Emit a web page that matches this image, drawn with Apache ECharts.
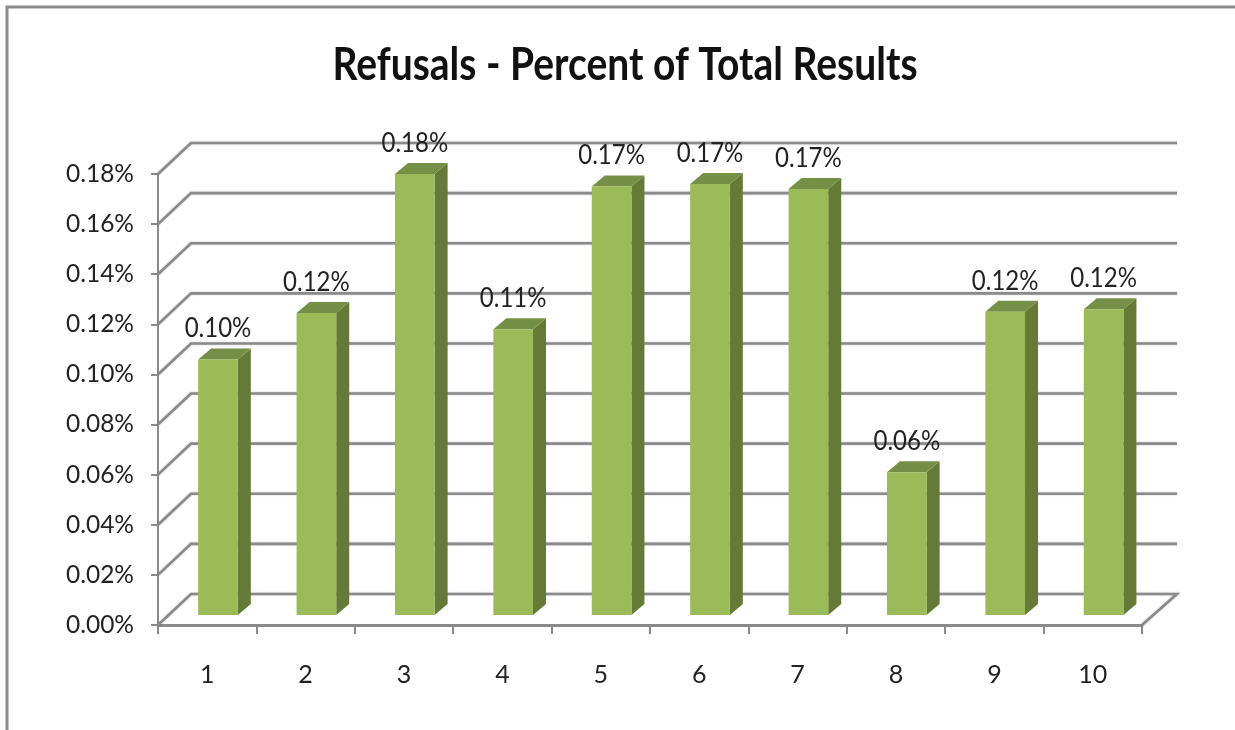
<!DOCTYPE html>
<html>
<head>
<meta charset="utf-8">
<style>html,body{margin:0;padding:0;background:#fff}#c{width:1235px;height:730px}</style>
<script src="https://cdn.jsdelivr.net/npm/echarts@6/dist/echarts.min.js"></script>
</head>
<body>
<div id="c"></div>
<script>
const titleText = 'Refusals - Percent of Total Results';
const categories = ['1','2','3','4','5','6','7','8','9','10'];
const refusals = [0.102,0.1205,0.176,0.114,0.171,0.172,0.170,0.057,0.121,0.122];
const dataLabels = ['0.10%','0.12%','0.18%','0.11%','0.17%','0.17%','0.17%','0.06%','0.12%','0.12%'];
const yTicks = [0,0.02,0.04,0.06,0.08,0.10,0.12,0.14,0.16,0.18];

const FONT = 'Lato';
const GRID = '#8a8a8a';
const wallDx = 33, wallDy = -31, wallRight = 35;
const barDx = 13, barDy = -11, barShift = 10.8, barFloor = 10;

const chart = echarts.init(document.getElementById('c'));
chart.setOption({
  animation: false,
  backgroundColor: '#fff',
  graphic: [{
    type: 'rect', silent: true,
    shape: {x: 7, y: 7, width: 1300, height: 800},
    style: {fill: 'none', stroke: '#8c8c8c', lineWidth: 3}
  }, {
    type: 'text', silent: true, x: 625, y: 66, scaleY: 1.15,
    style: {text: titleText, x: 0, y: 0, align: 'center', verticalAlign: 'middle',
      fontFamily: FONT, fontSize: 39, fontWeight: 'bold', fill: '#111'}
  }],
  grid: {left: 158, right: 93, top: 174, bottom: 105},
  xAxis: {
    type: 'category', data: categories,
    axisLine: {lineStyle: {color: GRID, width: 3}},
    axisTick: {show: true, length: 9, lineStyle: {color: GRID, width: 2}},
    axisLabel: {margin: 37, fontFamily: FONT, fontSize: 25, color: '#222'}
  },
  yAxis: {
    type: 'value', min: 0, max: 0.18, interval: 0.02,
    axisLine: {show: true, lineStyle: {color: GRID, width: 2}},
    axisTick: {show: true, length: 7, lineStyle: {color: GRID, width: 2}},
    splitLine: {show: false},
    axisLabel: {margin: 24, fontFamily: FONT, fontSize: 24.5, color: '#222',
      padding: [6, 0, 0, 0],
      formatter: v => v.toFixed(2) + '%'}
  },
  series: [{
    type: 'custom', z: 1, silent: true,
    coordinateSystem: 'cartesian2d',
    encode: {x: 0, y: 1},
    data: yTicks.map(t => [0, t]),
    renderItem: function (params, api) {
      const cs = params.coordSys;
      const p = api.coord([0, api.value(1)]);
      const y = p[1], x0 = cs.x;
      const pts = [[x0, y], [x0 + wallDx, y + wallDy], [x0 + cs.width + wallRight, y + wallDy]];
      if (api.value(1) === 0) pts.push([x0 + cs.width, y]);
      return {
        type: 'polyline',
        shape: {points: pts},
        style: {fill: 'none', stroke: GRID, lineWidth: 2.6, shadowBlur: 2, shadowColor: 'rgba(0,0,0,0.25)'}
      };
    }
  }, {
    type: 'custom', z: 3, silent: true,
    coordinateSystem: 'cartesian2d',
    encode: {x: 0, y: 1},
    data: refusals.map((v, i) => [i, v]),
    renderItem: function (params, api) {
      const band = api.size([1, 0])[0];
      const w = band * 0.403;
      const top = api.coord([api.value(0), api.value(1)]);
      const floor = api.coord([api.value(0), 0]);
      const xl = floor[0] + barShift - w / 2, xr = xl + w;
      const yb = floor[1] - barFloor;
      const yt = top[1] - barFloor;
      return {
        type: 'group',
        children: [
          {type: 'polygon', shape: {points: [[xr, yt], [xr + barDx, yt + barDy], [xr + barDx, yb + barDy], [xr, yb]]},
            style: {fill: '#667a38'}},
          {type: 'polygon', shape: {points: [[xl, yt], [xl + barDx, yt + barDy], [xr + barDx, yt + barDy], [xr, yt]]},
            style: {fill: '#768f46'}},
          {type: 'rect', shape: {x: xl, y: yt, width: w, height: yb - yt},
            style: {fill: '#9bbb59'}},
          {type: 'text', x: xl + w / 2, y: yt - 31, scaleY: 1.15, style: {
            x: 0, y: 0, text: dataLabels[params.dataIndex],
            align: 'center', verticalAlign: 'middle',
            fontFamily: FONT, fontSize: 24, fill: '#222'}}
        ]
      };
    }
  }]
});
</script>
</body>
</html>
